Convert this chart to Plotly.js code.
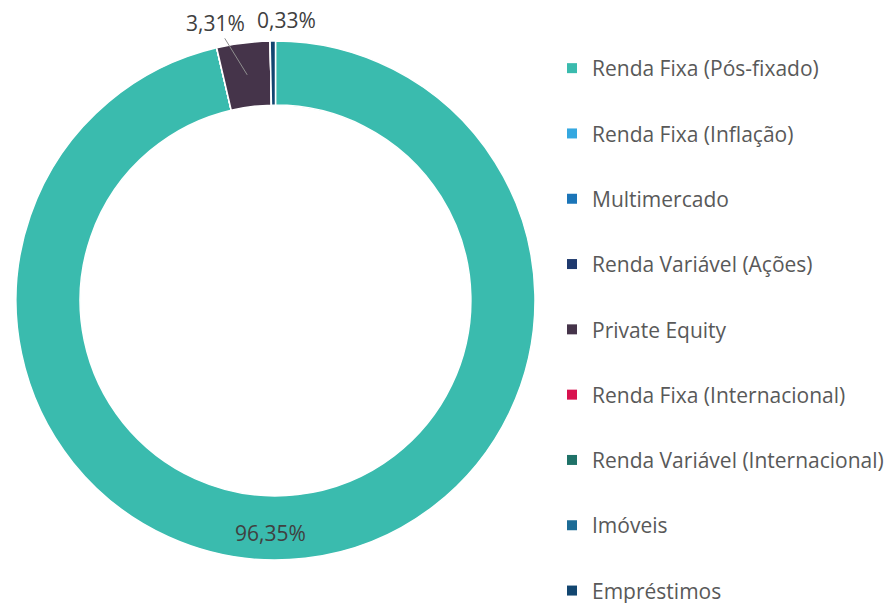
<!DOCTYPE html>
<html>
<head>
<meta charset="utf-8">
<script src="https://cdn.plot.ly/plotly-3.0.1.min.js"></script>
<style>html,body{margin:0;padding:0;background:#fff;}#chart{width:890px;height:603px;}</style>
</head>
<body>
<div id="chart"></div>
<script>
const categories = [
  "Renda Fixa (Pós-fixado)",
  "Renda Fixa (Inflação)",
  "Multimercado",
  "Renda Variável (Ações)",
  "Private Equity",
  "Renda Fixa (Internacional)",
  "Renda Variável (Internacional)",
  "Imóveis",
  "Empréstimos"
];
const shares = [96.35, 0, 0, 0, 3.31, 0, 0, 0, 0.33];
const colors = ["#3ABBAE", "#35A8E0", "#1B75B8", "#1F3A6E", "#45344A", "#D8124F", "#1F7268", "#1D6C96", "#124670"];

const W = 890, H = 603;
const FONT = "'Open Sans', Roboto, sans-serif";
const dom = {x: [16/W, 535/W], y: [43/H, 562/H]};
const hole = 0.753;

const pie = {
  type: "pie",
  labels: categories,
  values: shares,
  sort: false,
  direction: "clockwise",
  rotation: 0,
  hole: hole,
  marker: {colors: colors, line: {color: "#ffffff", width: 1.5}},
  textinfo: "none",
  domain: dom,
  showlegend: false,
  hoverinfo: "label+percent"
};

// label positions derived from the slices' angles (clockwise from 12 o'clock)
const total = shares.reduce((a, b) => a + b, 0);
const cxPx = (dom.x[0] + dom.x[1]) / 2 * W;
const cyPx = (1 - (dom.y[0] + dom.y[1]) / 2) * H;
const rPx = (dom.x[1] - dom.x[0]) * W / 2;
let cum = 0;
const annotations = [];
shares.forEach((v, i) => {
  const start = cum; cum += v;
  if (v <= 0) return;
  const mid = (start + v / 2) / total * 2 * Math.PI;
  const txt = v.toFixed(2).replace(".", ",") + "%";
  const rr = i === 0 ? rPx * (1 + hole) / 2 + 5 : (i === 4 ? rPx * (1 + hole) / 2 : rPx);
  const ang = i === 0 ? Math.PI : mid;
  const px = cxPx + rr * Math.sin(ang);
  const py = cyPx - rr * Math.cos(ang);
  const a = {
    x: px / W, y: 1 - py / H, xref: "paper", yref: "paper",
    text: txt,
    font: {family: FONT, size: 21, color: "#404040"}
  };
  if (i === 0) {
    Object.assign(a, {showarrow: false, xanchor: "center", yanchor: "middle", xshift: -5});
  } else if (i === 4) {
    Object.assign(a, {showarrow: true, arrowhead: 0, arrowwidth: 1, arrowcolor: "#8f8f8f", ax: -32, ay: -52, standoff: 0});
  } else {
    Object.assign(a, {showarrow: false, xanchor: "center", yanchor: "bottom", xshift: 14, yshift: 5});
  }
  annotations.push(a);
});

const legendTraces = categories.map((c, i) => ({
  type: "scatter",
  mode: "markers",
  x: [null], y: [null],
  name: c,
  legendgroup: "g" + i,
  marker: {symbol: "square", size: 10, color: colors[i]},
  showlegend: true,
  hoverinfo: "skip"
}));

const layout = {
  width: W, height: H,
  margin: {l: 0, r: 0, t: 0, b: 0, autoexpand: false},
  paper_bgcolor: "#ffffff",
  plot_bgcolor: "#ffffff",
  separators: ",.",
  xaxis: {visible: false, domain: [0.99, 1]},
  yaxis: {visible: false, domain: [0.99, 1]},
  showlegend: true,
  annotations: annotations,
  legend: {
    x: 552/W, xanchor: "left",
    y: 1 - 48/H, yanchor: "top",
    traceorder: "grouped",
    tracegroupgap: 35,
    font: {family: FONT, size: 21, color: "#595959"},
    bgcolor: "rgba(0,0,0,0)",
    itemclick: false, itemdoubleclick: false
  }
};

Plotly.newPlot("chart", [pie].concat(legendTraces), layout, {displayModeBar: false, staticPlot: true});
</script>
</body>
</html>
